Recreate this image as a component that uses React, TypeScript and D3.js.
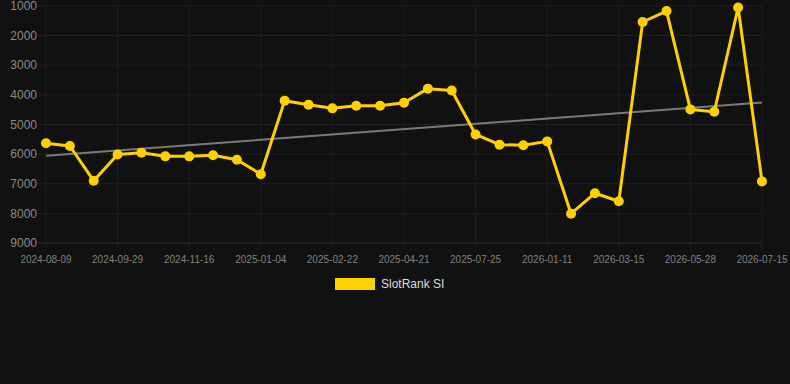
import React from 'react';
import * as d3 from 'd3';

// dates of each SlotRank reading (only every 3rd is labelled on the axis)
const dates = [
    '2024-08-09', '2024-08-26', '2024-09-12',
    '2024-09-29', '2024-10-15', '2024-10-31',
    '2024-11-16', '2024-11-29', '2024-12-17',
    '2025-01-04', '2025-01-17', '2025-02-05',
    '2025-02-22', '2025-03-12', '2025-04-01',
    '2025-04-21', '2025-05-20', '2025-06-22',
    '2025-07-25', '2025-09-20', '2025-11-15',
    '2026-01-11', '2026-02-01', '2026-02-22',
    '2026-03-15', '2026-04-08', '2026-05-03',
    '2026-05-28', '2026-06-12', '2026-06-28',
    '2026-07-15',
];

const slotRank = [
    5630, 5725, 6900, 6010, 5950, 6075, 6075, 6040, 6190, 6680,
    4195, 4330, 4455, 4365, 4365, 4265, 3790, 3850, 5335, 5680,
    5700, 5570, 8010, 7320, 7590, 1540, 1170, 4490, 4570, 1050,
    6920,
];

const yTicks = [1000, 2000, 3000, 4000, 5000, 6000, 7000, 8000, 9000];

const seriesName = 'SlotRank SI';

const width = 790;
const height = 384;
const margin = { top: 6, right: 28, bottom: 141, left: 46 };

const App = () => {
    const x = d3
        .scalePoint<string>()
        .domain(dates)
        .range([margin.left, width - margin.right]);

    // rank axis is reversed: better ranks on top
    const y = d3
        .scaleLinear()
        .domain([1000, 9000])
        .range([margin.top, height - margin.bottom]);

    const line = d3
        .line<number>()
        .x((_, i) => x(dates[i])!)
        .y((d) => y(d));

    // linear trend over the index
    const n = slotRank.length;
    const idx = d3.range(n);
    const mx = d3.mean(idx)!;
    const my = d3.mean(slotRank)!;
    const slope =
        d3.sum(idx, (i) => (i - mx) * (slotRank[i] - my)) /
        d3.sum(idx, (i) => (i - mx) * (i - mx));
    const trendStart = my - slope * mx;
    const trendEnd = my + slope * (n - 1 - mx);

    const xLabels = dates.filter((_, i) => i % 3 === 0);
    const left = margin.left;
    const right = width - margin.right;
    const bottom = height - margin.bottom;

    return (
        <svg
            width={width}
            height={height}
            style={{ position: 'absolute', left: 0, top: 0, background: '#111111' }}
            fontFamily="'Liberation Sans', Arial, sans-serif"
        >
            <rect width={width} height={height} fill="#111111" />

            {/* grid */}
            {yTicks.map((t) => (
                <line
                    key={'h' + t}
                    x1={left - 8}
                    x2={right}
                    y1={y(t)}
                    y2={y(t)}
                    stroke={t === 9000 ? '#2e2e2e' : '#1f1f1f'}
                    strokeWidth={1}
                />
            ))}
            {xLabels.map((d) => (
                <line
                    key={'v' + d}
                    x1={x(d)}
                    x2={x(d)}
                    y1={margin.top}
                    y2={bottom + 5}
                    stroke="#1f1f1f"
                    strokeWidth={1}
                />
            ))}

            {/* y tick labels */}
            {yTicks.map((t) => (
                <text
                    key={'yl' + t}
                    x={37}
                    y={y(t)}
                    dy="0.35em"
                    textAnchor="end"
                    fontSize={12}
                    fill="#8a8a8a"
                >
                    {t}
                </text>
            ))}

            {/* x tick labels */}
            {xLabels.map((d) => (
                <text
                    key={'xl' + d}
                    x={x(d)}
                    y={bottom + 16}
                    dy="0.35em"
                    textAnchor="middle"
                    fontSize={10}
                    fill="#808080"
                >
                    {d}
                </text>
            ))}

            {/* trend line */}
            <line
                x1={x(dates[0])}
                x2={x(dates[n - 1])}
                y1={y(trendStart)}
                y2={y(trendEnd)}
                stroke="#7a7a7a"
                strokeWidth={2}
            />

            {/* series */}
            <path
                d={line(slotRank) ?? ''}
                fill="none"
                stroke="#ffd000"
                strokeWidth={3}
                strokeLinejoin="round"
            />
            {slotRank.map((v, i) => (
                <circle key={'p' + i} cx={x(dates[i])} cy={y(v)} r={5} fill="#ffd000" />
            ))}

            {/* legend */}
            <rect x={335} y={278} width={40} height={12} fill="#ffd000" />
            <text x={381} y={284} dy="0.35em" fontSize={12} fill="#dddddd">
                {seriesName}
            </text>
        </svg>
    );
};

export default App;
